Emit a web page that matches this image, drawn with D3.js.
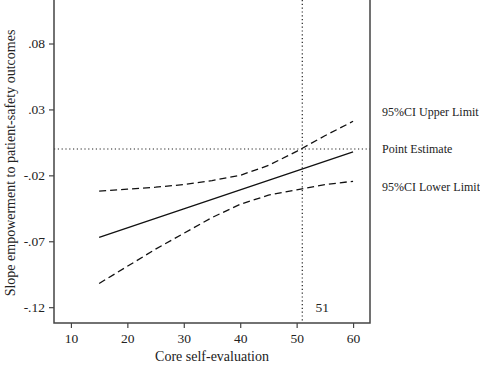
<!DOCTYPE html>
<meta charset="utf-8">
<style>
body { margin: 0; background: #fff; }
text { font-family: "Liberation Serif", "DejaVu Serif", serif; fill: #222; }
</style>
<body>
<script src="https://d3js.org/d3.v7.min.js"></script>
<script>

width = 480;
height = 365;
margin = ({top: 0, right: 110, bottom: 42, left: 54});

// core self-evaluation values
xs = [15, 20, 25, 30, 35, 40, 45, 50, 55, 60]
estimate = [-0.067, -0.0598, -0.0526, -0.0454, -0.0382, -0.031, -0.0238, -0.0166, -0.0094, -0.0022]
upper = [-0.032, -0.0305, -0.029, -0.027, -0.024, -0.020, -0.0125, -0.0018, 0.010, 0.021]
lower = [-0.102, -0.089, -0.076, -0.064, -0.052, -0.042, -0.035, -0.031, -0.027, -0.0245]

xTicks = [10, 20, 30, 40, 50, 60]
yTicks = [0.08, 0.03, -0.02, -0.07, -0.12]
yTickLabels = [".08", ".03", "-.02", "-.07", "-.12"]
cutoff = 51
seriesLabels = ["95%CI Upper Limit", "Point Estimate", "95%CI Lower Limit"]
labelValues = [0.028, 0, -0.029]

x = d3.scaleLinear([7, 63], [margin.left, width - margin.right])
y = d3.scaleLinear([-0.132, 0.113], [height - margin.bottom, margin.top])

var svg = d3.select("body").append("svg")
    .attr("width", width)
    .attr("height", height)

line = d3.line().x((d, i) => x(xs[i])).y(d => y(d))

// reference lines
svg.append("line")
    .attr("x1", x(7)).attr("x2", x(63))
    .attr("y1", y(0)).attr("y2", y(0))
    .attr("stroke", "#222").attr("stroke-width", 1.2)
    .attr("stroke-dasharray", "1.2,2.6")

svg.append("line")
    .attr("x1", x(cutoff)).attr("x2", x(cutoff))
    .attr("y1", y(0.113)).attr("y2", y(-0.132))
    .attr("stroke", "#222").attr("stroke-width", 1.2)
    .attr("stroke-dasharray", "1.2,2.6")

// curves
svg.append("path").datum(upper)
    .attr("d", line).attr("fill", "none")
    .attr("stroke", "#111").attr("stroke-width", 1.3)
    .attr("stroke-dasharray", "7,4")

svg.append("path").datum(lower)
    .attr("d", line).attr("fill", "none")
    .attr("stroke", "#111").attr("stroke-width", 1.3)
    .attr("stroke-dasharray", "7,4")

svg.append("path").datum(estimate)
    .attr("d", line).attr("fill", "none")
    .attr("stroke", "#111").attr("stroke-width", 1.3)

// axes
xAxis = svg.append("g")
    .attr("transform", `translate(0,${height - margin.bottom})`)
    .attr("font-family", null).attr("font-size", null)
    .call(d3.axisBottom(x).tickValues(xTicks).tickSize(5).tickPadding(5))

yAxis = svg.append("g")
    .attr("transform", `translate(${margin.left},0)`)
    .call(d3.axisLeft(y).tickValues(yTicks).tickSize(5).tickPadding(4)
      .tickFormat((d, i) => yTickLabels[i]))

svg.selectAll(".domain").remove()
svg.selectAll(".tick line").attr("stroke", "#444").attr("stroke-width", 1.2)
svg.selectAll(".tick text")
    .style("font-family", '"Liberation Serif", serif')
    .style("font-size", "13.5px")
    .attr("fill", "#222")

// frame
svg.append("path")
    .attr("d", `M${x(7)},0V${y(-0.132)}H${x(63)}V0`)
    .attr("fill", "none")
    .attr("stroke", "#444")
    .attr("stroke-width", 1.5)

// cutoff label
svg.append("text")
    .attr("x", x(cutoff) + 20)
    .attr("y", y(-0.12) + 4.5)
    .attr("text-anchor", "middle")
    .style("font-size", "13.5px")
    .text(cutoff)

// series labels
svg.selectAll(".slabel")
    .data(seriesLabels)
    .join("text")
    .attr("class", "slabel")
    .attr("x", 382)
    .attr("y", (d, i) => y(labelValues[i]) + 4)
    .style("font-size", "12px")
    .text(d => d)

// axis titles
svg.append("text")
    .attr("x", x(35))
    .attr("y", 361)
    .attr("text-anchor", "middle")
    .style("font-size", "14px")
    .text("Core self-evaluation")

svg.append("text")
    .attr("transform", `translate(15,${163}) rotate(-90)`)
    .attr("text-anchor", "middle")
    .style("font-size", "14px")
    .text("Slope empowerment to patient-safety outcomes")

</script>
